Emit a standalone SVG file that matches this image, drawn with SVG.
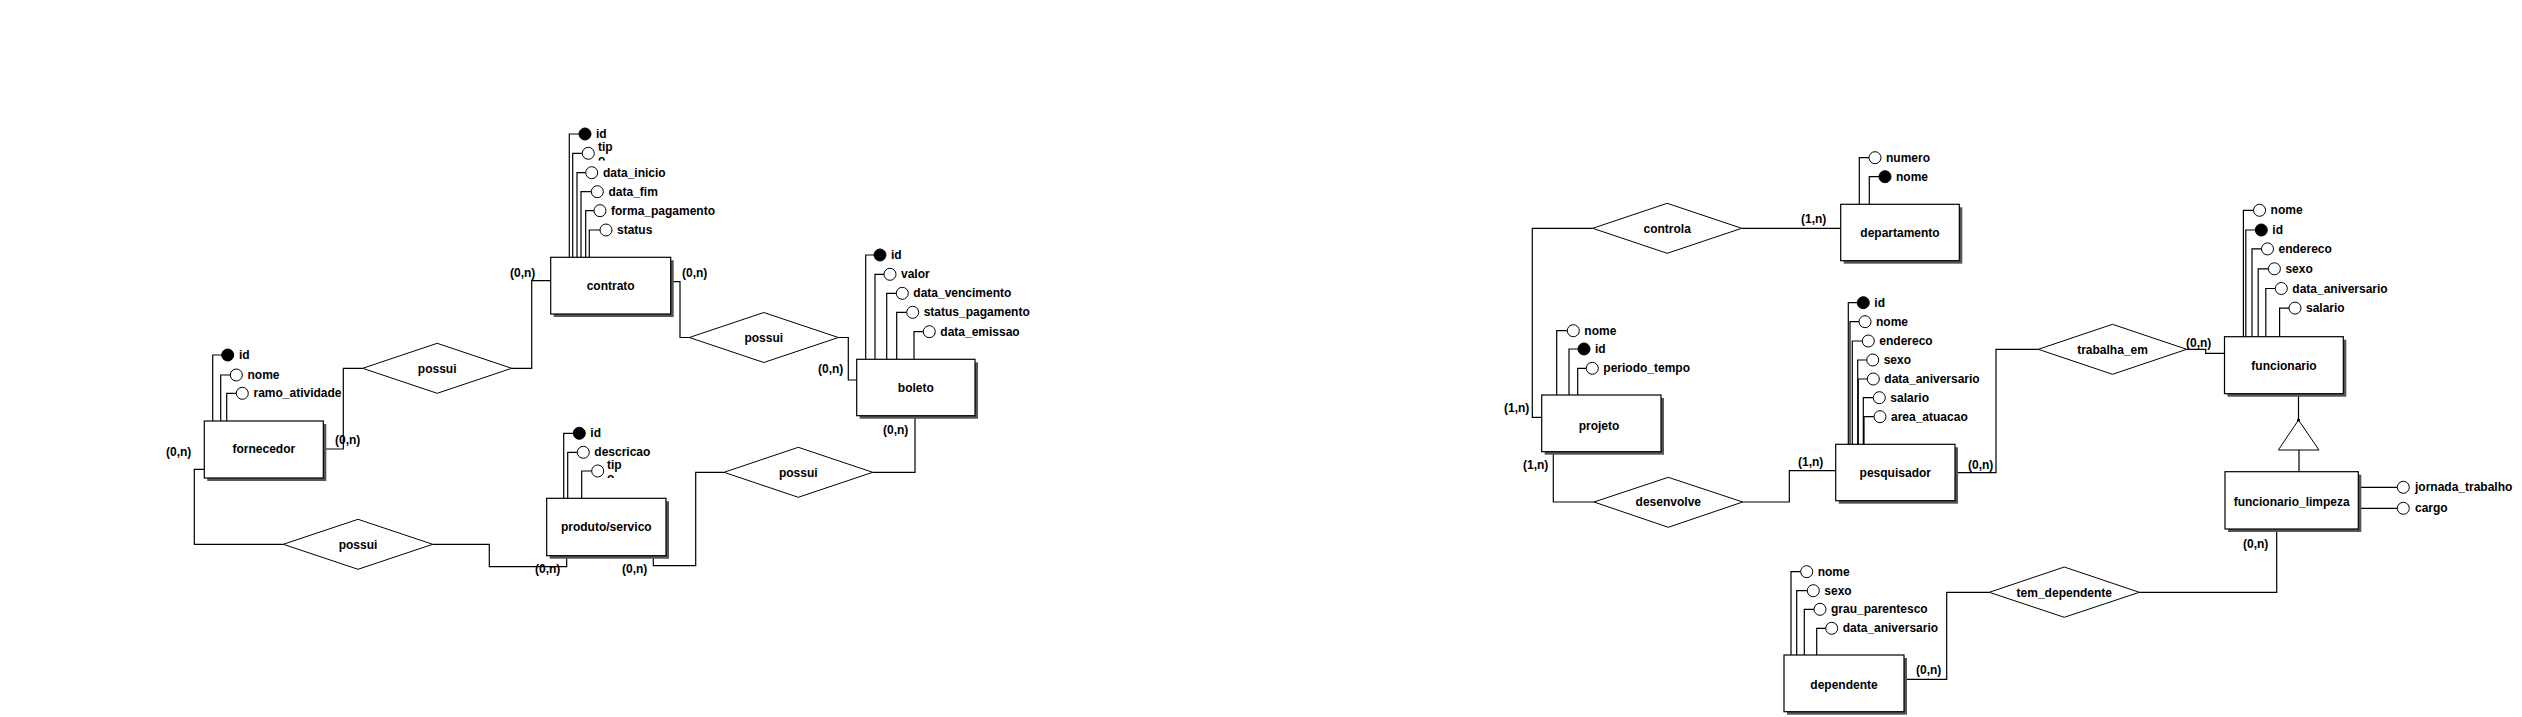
<svg xmlns="http://www.w3.org/2000/svg" width="2522" height="717" viewBox="0 0 2522 717">
<style>
text{font-family:"Liberation Sans",Arial,sans-serif;font-weight:bold;font-size:12px;fill:#000}
.ent{fill:#fff;stroke:#000;stroke-width:1.2}
.sh{fill:#555}
.rel{fill:#fff;stroke:#000;stroke-width:1}
.ln{fill:none;stroke:#000;stroke-width:1.2}
.at{fill:#fff;stroke:#000;stroke-width:1}
.pk{fill:#000;stroke:#000;stroke-width:1}
.c{text-anchor:middle}
</style>
<defs>
<clipPath id="clipC"><rect x="590" y="140" width="40" height="20.5"/></clipPath>
<clipPath id="clipP"><rect x="600" y="455" width="40" height="23"/></clipPath>
</defs>
<rect width="2522" height="717" fill="#fff"/>

<g id="connectors">
<path class="ln" d="M323,449 H343.3 V368.3 H362.7"/>
<path class="ln" d="M511.7,368.3 H531.7 V280.7 H550.7"/>
<path class="ln" d="M204.3,469.3 H194.3 V544.3 H283.3"/>
<path class="ln" d="M432.7,544.3 H489.3 V566.7 H566.7 V555.7"/>
<path class="ln" d="M670.7,281.7 H680 V337.5 H689.3"/>
<path class="ln" d="M838.3,337.5 H848.3 V380 H856.7"/>
<path class="ln" d="M653.3,555.7 V565.7 H695.7 V472.3 H724"/>
<path class="ln" d="M872.7,472.3 H915 V415.7"/>
<path class="ln" d="M1742,228.3 H1840.7"/>
<path class="ln" d="M1592.7,228.3 H1532.3 V417.3 H1541.7"/>
<path class="ln" d="M1553.3,451.7 V502 H1594"/>
<path class="ln" d="M1742.7,502 H1789.3 V470.7 H1835.7"/>
<path class="ln" d="M1955,472.7 H1996 V349.3 H2038.3"/>
<path class="ln" d="M2186.7,349.3 H2205.7 V353.3 H2225"/>
<path class="ln" d="M2298.5,394 V420"/>
<path class="ln" d="M2299,450 V471.7"/>
<path class="ln" d="M2276.7,529 V592.3 H2139.3"/>
<path class="ln" d="M1989.3,592.3 H1946.7 V679.3 H1905"/>
<text x="335" y="444">(0,n)</text>
<text x="166" y="456">(0,n)</text>
<text x="510" y="277">(0,n)</text>
<text x="682" y="277">(0,n)</text>
<text x="818" y="373">(0,n)</text>
<text x="883" y="434">(0,n)</text>
<text x="535" y="573">(0,n)</text>
<text x="622" y="573">(0,n)</text>
<text x="1801" y="223">(1,n)</text>
<text x="1504" y="412">(1,n)</text>
<text x="1523" y="469">(1,n)</text>
<text x="1798" y="466">(1,n)</text>
<text x="1968" y="469">(0,n)</text>
<text x="2186" y="347">(0,n)</text>
<text x="2243" y="548">(0,n)</text>
<text x="1916" y="674">(0,n)</text>
</g>

<g id="rel-possui-1">
<polygon class="rel" points="362.7,368.3 437.2,343.3 511.7,368.3 437.2,393.3"/>
<text class="c" x="437.2" y="372.5">possui</text>
</g>
<g id="rel-possui-2">
<polygon class="rel" points="283.3,544.3 358,519.3 432.7,544.3 358,569.3"/>
<text class="c" x="358" y="548.5">possui</text>
</g>
<g id="rel-possui-3">
<polygon class="rel" points="689.3,337.5 763.8,312.5 838.3,337.5 763.8,362.5"/>
<text class="c" x="763.8" y="341.7">possui</text>
</g>
<g id="rel-possui-4">
<polygon class="rel" points="724,472.3 798.3,447.3 872.7,472.3 798.3,497.3"/>
<text class="c" x="798.3" y="476.5">possui</text>
</g>
<g id="rel-controla">
<polygon class="rel" points="1592.7,228.3 1667.2,203.3 1741.7,228.3 1667.2,253.3"/>
<text class="c" x="1667.2" y="232.5">controla</text>
</g>
<g id="rel-desenvolve">
<polygon class="rel" points="1594,502 1668.3,477.3 1742.7,502 1668.3,527.3"/>
<text class="c" x="1668.3" y="506.3">desenvolve</text>
</g>
<g id="rel-trabalha_em">
<polygon class="rel" points="2038.3,349.3 2112.5,324.3 2186.7,349.3 2112.5,374.3"/>
<text class="c" x="2112.5" y="353.5">trabalha_em</text>
</g>
<g id="rel-tem_dependente">
<polygon class="rel" points="1989.3,592.3 2064.3,567 2139.3,592.3 2064.3,617.3"/>
<text class="c" x="2064.3" y="596.5">tem_dependente</text>
</g>
<g id="specialization">
<polygon class="rel" points="2298.5,420 2319,450 2278.3,450"/>
<circle cx="2298.5" cy="420" r="1.5" fill="#000"/>
</g>

<g id="fornecedor">
<path class="ln" d="M212.7,421 V355 H221.7 M220.7,421 V375 H230.3 M226.7,421 V393.3 H236.3"/>
<circle class="pk" cx="227.7" cy="355" r="6"/>
<circle class="at" cx="236.3" cy="375" r="6"/>
<circle class="at" cx="242.3" cy="393.3" r="6"/>
<text x="239" y="359">id</text>
<text x="247.5" y="379">nome</text>
<text x="253.5" y="397.3">ramo_atividade</text>
<rect class="sh" x="207.3" y="424" width="119" height="57"/>
<rect class="ent" x="204.3" y="421" width="119" height="57"/>
<text class="c" x="263.8" y="453">fornecedor</text>
</g>

<g id="contrato">
<path class="ln" d="M569.3,257.3 V134 H579 M572.7,257.3 V153.3 H582.3 M577,257.3 V172.7 H585.7 M581,257.3 V191.7 H591.3 M585.7,257.3 V210.7 H594 M589.3,257.3 V230 H600"/>
<circle class="pk" cx="585" cy="134" r="6"/>
<circle class="at" cx="588.3" cy="153.3" r="6"/>
<circle class="at" cx="591.7" cy="172.7" r="6"/>
<circle class="at" cx="597.3" cy="191.7" r="6"/>
<circle class="at" cx="600" cy="210.7" r="6"/>
<circle class="at" cx="606" cy="230" r="6"/>
<text x="596" y="138">id</text>
<g clip-path="url(#clipC)"><text x="598" y="151">tip</text><text x="598" y="163.5">o</text></g>
<text x="603" y="176.7">data_inicio</text>
<text x="608.5" y="195.7">data_fim</text>
<text x="611" y="214.7">forma_pagamento</text>
<text x="617" y="234">status</text>
<rect class="sh" x="553.7" y="260.3" width="120" height="56.7"/>
<rect class="ent" x="550.7" y="257.3" width="120" height="56.7"/>
<text class="c" x="610.7" y="290">contrato</text>
</g>

<g id="boleto">
<path class="ln" d="M865.7,359.3 V255 H874 M875,359.3 V274.3 H884 M886.7,359.3 V293.3 H896.3 M896.7,359.3 V312.3 H906.7 M914,359.3 V331.7 H923.3"/>
<circle class="pk" cx="880" cy="255" r="6"/>
<circle class="at" cx="890" cy="274.3" r="6"/>
<circle class="at" cx="902.3" cy="293.3" r="6"/>
<circle class="at" cx="912.7" cy="312.3" r="6"/>
<circle class="at" cx="929.3" cy="331.7" r="6"/>
<text x="891" y="259">id</text>
<text x="901" y="278.3">valor</text>
<text x="913.3" y="297.3">data_vencimento</text>
<text x="923.7" y="316.3">status_pagamento</text>
<text x="940.3" y="335.7">data_emissao</text>
<rect class="sh" x="859.7" y="362.3" width="118.3" height="56.4"/>
<rect class="ent" x="856.7" y="359.3" width="118.3" height="56.4"/>
<text class="c" x="915.8" y="392">boleto</text>
</g>

<g id="produto_servico">
<path class="ln" d="M563.7,498.3 V433.3 H573.3 M567.7,498.3 V452.3 H577.3 M581.7,498.3 V471 H591.7"/>
<circle class="pk" cx="579.3" cy="433.3" r="6"/>
<circle class="at" cx="583.3" cy="452.3" r="6"/>
<circle class="at" cx="597.7" cy="471" r="6"/>
<text x="590.3" y="437.3">id</text>
<text x="594.3" y="456.3">descricao</text>
<g clip-path="url(#clipP)"><text x="607" y="469.3">tip</text><text x="607" y="481.5">o</text></g>
<rect class="sh" x="549.7" y="501.3" width="119.3" height="57.4"/>
<rect class="ent" x="546.7" y="498.3" width="119.3" height="57.4"/>
<text class="c" x="606.3" y="531">produto/servico</text>
</g>

<g id="departamento">
<path class="ln" d="M1859.3,204.3 V157.7 H1869 M1869.3,204.3 V176.7 H1879"/>
<circle class="at" cx="1875" cy="157.7" r="6"/>
<circle class="pk" cx="1885" cy="176.7" r="6"/>
<text x="1886" y="161.7">numero</text>
<text x="1896" y="180.7">nome</text>
<rect class="sh" x="1843.7" y="207.3" width="118.6" height="56.4"/>
<rect class="ent" x="1840.7" y="204.3" width="118.6" height="56.4"/>
<text class="c" x="1900" y="237">departamento</text>
</g>

<g id="projeto">
<path class="ln" d="M1556.7,395 V330.7 H1567.3 M1569,395 V349 H1578 M1577.7,395 V368.3 H1586.3"/>
<circle class="at" cx="1573.3" cy="330.7" r="6"/>
<circle class="pk" cx="1584" cy="349" r="6"/>
<circle class="at" cx="1592.3" cy="368.3" r="6"/>
<text x="1584.3" y="334.7">nome</text>
<text x="1595" y="353">id</text>
<text x="1603.3" y="372.3">periodo_tempo</text>
<rect class="sh" x="1544.7" y="398" width="119.3" height="56.7"/>
<rect class="ent" x="1541.7" y="395" width="119.3" height="56.7"/>
<text class="c" x="1599" y="429.5">projeto</text>
</g>

<g id="pesquisador">
<path class="ln" d="M1848.3,444.3 V302.7 H1857.3 M1850,444.3 V321.7 H1859 M1852.3,444.3 V341 H1862.3 M1857.7,444.3 V360 H1866.7 M1858.3,444.3 V379 H1867.3 M1863.3,444.3 V397.7 H1873.3 M1864,444.3 V416.7 H1874"/>
<circle class="pk" cx="1863.3" cy="302.7" r="6"/>
<circle class="at" cx="1865" cy="321.7" r="6"/>
<circle class="at" cx="1868.3" cy="341" r="6"/>
<circle class="at" cx="1872.7" cy="360" r="6"/>
<circle class="at" cx="1873.3" cy="379" r="6"/>
<circle class="at" cx="1879.3" cy="397.7" r="6"/>
<circle class="at" cx="1880" cy="416.7" r="6"/>
<text x="1874.3" y="306.7">id</text>
<text x="1876" y="325.7">nome</text>
<text x="1879.3" y="345">endereco</text>
<text x="1883.7" y="364">sexo</text>
<text x="1884.3" y="383">data_aniversario</text>
<text x="1890.3" y="401.7">salario</text>
<text x="1891" y="420.7">area_atuacao</text>
<rect class="sh" x="1838.7" y="447.3" width="119.3" height="56.4"/>
<rect class="ent" x="1835.7" y="444.3" width="119.3" height="56.4"/>
<text class="c" x="1895.3" y="477">pesquisador</text>
</g>

<g id="funcionario">
<path class="ln" d="M2243.4,336.7 V210.3 H2253.6 M2245.8,336.7 V230 H2255.3 M2252,336.7 V248.9 H2261.5 M2258.2,336.7 V268.8 H2268.4 M2265.8,336.7 V288.5 H2275.3 M2279.6,336.7 V308.1 H2289"/>
<circle class="at" cx="2259.6" cy="210.3" r="6"/>
<circle class="pk" cx="2261.3" cy="230" r="6"/>
<circle class="at" cx="2267.5" cy="248.9" r="6"/>
<circle class="at" cx="2274.4" cy="268.8" r="6"/>
<circle class="at" cx="2281.3" cy="288.5" r="6"/>
<circle class="at" cx="2295" cy="308.1" r="6"/>
<text x="2270.6" y="214.3">nome</text>
<text x="2272.3" y="234">id</text>
<text x="2278.5" y="252.9">endereco</text>
<text x="2285.4" y="272.8">sexo</text>
<text x="2292.3" y="292.5">data_aniversario</text>
<text x="2306" y="312.1">salario</text>
<rect class="sh" x="2227.5" y="339.7" width="118.8" height="57"/>
<rect class="ent" x="2224.5" y="336.7" width="118.8" height="57"/>
<text class="c" x="2284" y="369.5">funcionario</text>
</g>

<g id="funcionario_limpeza">
<path class="ln" d="M2358.3,487.3 H2397.3 M2358.3,508.3 H2397.3"/>
<circle class="at" cx="2403.3" cy="487.3" r="6"/>
<circle class="at" cx="2403.3" cy="508.3" r="6"/>
<text x="2415" y="491.3">jornada_trabalho</text>
<text x="2415" y="512.3">cargo</text>
<rect class="sh" x="2228" y="474.7" width="133.3" height="57.3"/>
<rect class="ent" x="2225" y="471.7" width="133.3" height="57.3"/>
<text class="c" x="2291.7" y="505.7">funcionario_limpeza</text>
</g>

<g id="dependente">
<path class="ln" d="M1791,655 V571.7 H1800.7 M1796.7,655 V590.7 H1807.3 M1804.3,655 V609.3 H1814 M1816.7,655 V628.3 H1825.7"/>
<circle class="at" cx="1806.7" cy="571.7" r="6"/>
<circle class="at" cx="1813.3" cy="590.7" r="6"/>
<circle class="at" cx="1820" cy="609.3" r="6"/>
<circle class="at" cx="1831.7" cy="628.3" r="6"/>
<text x="1817.7" y="575.7">nome</text>
<text x="1824.3" y="594.7">sexo</text>
<text x="1831" y="613.3">grau_parentesco</text>
<text x="1842.7" y="632.3">data_aniversario</text>
<rect class="sh" x="1787" y="658" width="120" height="56.7"/>
<rect class="ent" x="1784" y="655" width="120" height="56.7"/>
<text class="c" x="1844" y="689">dependente</text>
</g>
</svg>
